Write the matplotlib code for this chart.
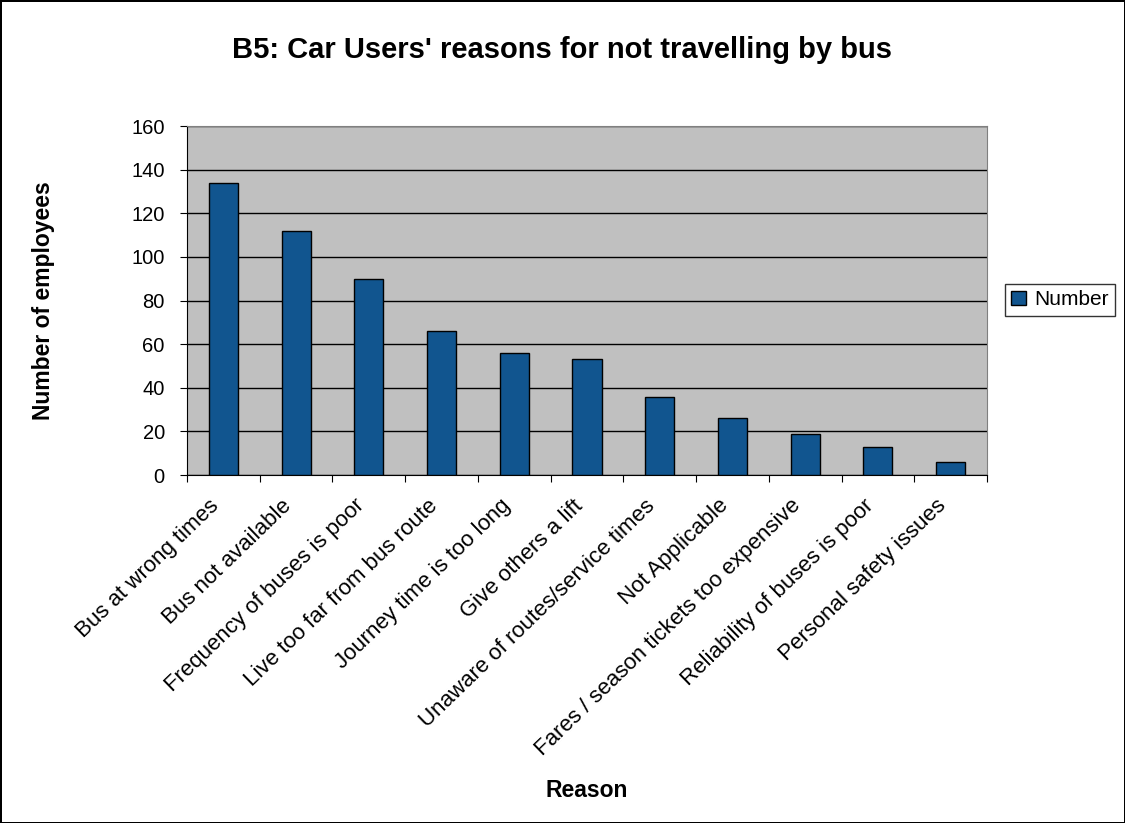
import matplotlib.pyplot as plt
import numpy as np

# Data
reasons = ['Bus at wrong times', 'Bus not available', 'Frequency of buses is poor',
           'Live too far from bus route', 'Journey time is too long', 'Give others a lift',
           'Unaware of routes/service times', 'Not Applicable',
           'Fares / season tickets too expensive', 'Reliability of buses is poor',
           'Personal safety issues']
numbers = [134, 112, 90, 66, 56, 53, 36, 26, 19, 13, 6]
yticks = [0, 20, 40, 60, 80, 100, 120, 140, 160]

plt.rcParams['font.family'] = ['Liberation Sans', 'DejaVu Sans']

fig = plt.figure(figsize=(11.25, 8.23), dpi=100)
fig.patch.set_facecolor('white')
fig.patch.set_edgecolor('black')
fig.patch.set_linewidth(2)

ax = fig.add_axes([0.1662, 0.4228, 0.7111, 0.4241])
ax.set_facecolor('#C0C0C0')

x = np.arange(len(reasons))
ax.bar(x, numbers, width=0.4, color='#11558F', edgecolor='black', linewidth=1,
       label='Number', zorder=3)

ax.set_xlim(-0.5, len(reasons) - 0.5)
ax.set_ylim(0, 160)
ax.set_yticks(yticks)
ax.yaxis.grid(True, color='black', linewidth=1, zorder=1)
ax.set_axisbelow(True)

# category ticks sit between the bars, labels just left of bar centres
ax.set_xticks(np.arange(len(reasons) + 1) - 0.5)
ax.set_xticklabels([])
ax.set_xticks(x - 0.1, minor=True)
ax.set_xticklabels(reasons, minor=True, rotation=44, ha='right', va='center',
                   rotation_mode='anchor', fontsize=16)
ax.tick_params(axis='x', which='minor', length=0, pad=20)
ax.tick_params(axis='x', which='major', length=5, direction='out', color='black')
ax.tick_params(axis='y', labelsize=14.5, length=5, pad=11, direction='out')

for side in ['top', 'right']:
    ax.spines[side].set_color('#808080')
for side in ['left', 'bottom']:
    ax.spines[side].set_color('black')

fig.text(0.039, 0.635, 'Number of employees', fontsize=16.5, fontweight='bold',
         rotation=90, ha='center', va='center')
fig.text(0.5218, 0.0316, 'Reason', fontsize=16.5, fontweight='bold', ha='center',
         va='baseline')
fig.text(0.5, 0.9295, "B5: Car Users' reasons for not travelling by bus",
         fontsize=21, fontweight='bold', ha='center', va='baseline')

fig.legend(loc='center', bbox_to_anchor=(0.942, 0.6355), fontsize=15,
           frameon=True, fancybox=False, edgecolor='black', handlelength=0.7,
           handleheight=0.7, borderpad=0.3, handletextpad=0.4, borderaxespad=0)

fig.savefig('out.png', dpi=100, facecolor=fig.get_facecolor(),
            edgecolor=fig.get_edgecolor())
